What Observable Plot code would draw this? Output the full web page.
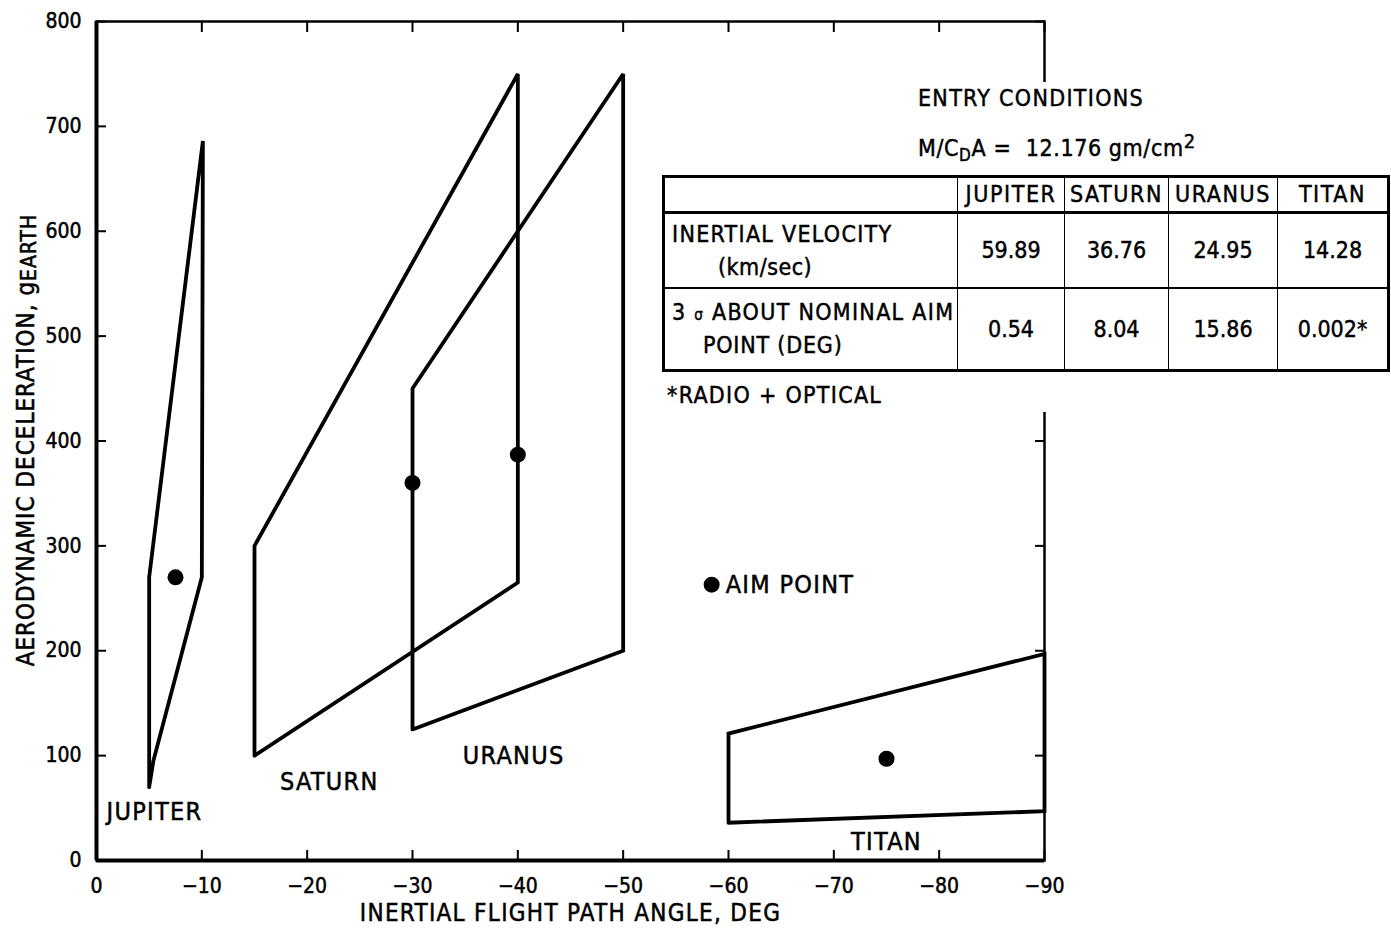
<!DOCTYPE html>
<html><head><meta charset="utf-8">
<script src="https://cdn.jsdelivr.net/npm/d3@7"></script>
<script src="https://cdn.jsdelivr.net/npm/@observablehq/plot@0.6"></script>
<style>
body{margin:0;background:#fff;}
#wrap{position:relative;width:1391px;height:934px;font-family:"Liberation Sans Narrow","DejaVu Sans Condensed","Roboto Condensed",sans-serif;color:#000;-webkit-text-stroke:0.45px #000;}
#wrap svg{position:absolute;left:0;top:0;}
#wrap svg text{stroke:#000;stroke-width:0.5px;}
#cover{position:absolute;left:655px;top:82px;width:736px;height:330px;background:#fff;}
.hd{position:absolute;font-size:23px;white-space:nowrap;line-height:1;letter-spacing:1.3px;}
#tbl{position:absolute;left:662px;top:175px;border-collapse:collapse;border:3px solid #000;font-size:23px;table-layout:fixed;}
#tbl td{border:1.5px solid #000;padding:0;text-align:center;line-height:1.45;}
#tbl tr.h td{height:32px;border-bottom:3px solid #000;letter-spacing:1.6px;}
#tbl tr.r1 td{height:73px;}
#tbl tr.r2 td{height:80px;border-top:2.5px solid #000;}
#tbl td.first{text-align:left;padding-left:7px;letter-spacing:1.3px;white-space:nowrap;}
</style></head><body><div id="wrap"></div>
<script>
// axis ticks
const xTicks = [0, -10, -20, -30, -40, -50, -60, -70, -80, -90];
const yTicks = [0, 100, 200, 300, 400, 500, 600, 700, 800];

// 3-sigma dispersion regions (inertial flight path angle, deg ; deceleration, g_earth)
const jupiterAngle = [-5, -5, -10.1, -10, -5.4, -5];
const jupiterDecel = [70, 270, 686, 270, 95, 70];
const saturnAngle = [-15, -15, -40, -40, -15];
const saturnDecel = [100, 300, 750, 265, 100];
const uranusAngle = [-30, -30, -50, -50, -30];
const uranusDecel = [125, 450, 750, 200, 125];
const titanAngle = [-60, -60, -90, -90, -60];
const titanDecel = [36, 121, 197, 47, 36];

// aim points
const aimPlanets = ["JUPITER", "SATURN", "URANUS", "TITAN"];
const aimAngle = [-7.5, -30, -40, -75];
const aimDecel = [270, 360, 387, 97];

// region labels
const labelText = ["JUPITER", "SATURN", "URANUS", "TITAN"];
const labelAngle = [-5.5, -22.1, -39.6, -75];
const labelDecel = [46, 75, 100, 18];

// legend
const legendAngle = [-58.4];
const legendDecel = [263];
const legendText = ["AIM POINT"];

// entry conditions table
const tablePlanets = ["JUPITER", "SATURN", "URANUS", "TITAN"];
const inertialVelocity = ["59.89", "36.76", "24.95", "14.28"];
const sigmaAim = ["0.54", "8.04", "15.86", "0.002*"];

const regions = [
  ["JUPITER", jupiterAngle, jupiterDecel],
  ["SATURN", saturnAngle, saturnDecel],
  ["URANUS", uranusAngle, uranusDecel],
  ["TITAN", titanAngle, titanDecel]
].flatMap(([p, xs, ys]) => xs.map((x, i) => ({planet: p, x, y: ys[i]})));
const aims = aimPlanets.map((p, i) => ({planet: p, x: aimAngle[i], y: aimDecel[i]}));
const labels = labelText.map((t, i) => ({t, x: labelAngle[i], y: labelDecel[i]}));
const legend = legendText.map((t, i) => ({t, x: legendAngle[i], y: legendDecel[i]}));

const fmtX = d => d === 0 ? "0" : "\u2212" + Math.abs(d);
const FONT = '"Liberation Sans Narrow","DejaVu Sans Condensed","Roboto Condensed",sans-serif';

const chart = Plot.plot({
  width: 1391, height: 934,
  marginLeft: 96, marginRight: 347, marginTop: 21, marginBottom: 74,
  x: {domain: [0, -90]},
  y: {domain: [0, 800]},
  style: {fontFamily: FONT, fontSize: "21px", color: "#000", background: "transparent", overflow: "visible"},
  marks: [
    Plot.frame({stroke: "#000", strokeWidth: 2.5}),
    Plot.ruleX([0], {stroke: "#000", strokeWidth: 4}),
    Plot.ruleY([0], {stroke: "#000", strokeWidth: 4}),
    Plot.axisX({ticks: xTicks, anchor: "bottom", tickSize: -10, tickPadding: 28, tickFormat: fmtX, label: null, strokeWidth: 2}),
    Plot.axisX({ticks: xTicks, anchor: "top", tickSize: -10, tickFormat: () => "", label: null, strokeWidth: 2}),
    Plot.axisY({ticks: yTicks, anchor: "left", tickSize: -10, tickPadding: 25, label: null, strokeWidth: 2}),
    Plot.axisY({ticks: yTicks, anchor: "right", tickSize: -10, tickFormat: () => "", label: null, strokeWidth: 2}),
    Plot.line(regions, {x: "x", y: "y", z: "planet", stroke: "#000", strokeWidth: 3.8, strokeLinejoin: "miter", strokeMiterlimit: 3}),
    Plot.dot(aims, {x: "x", y: "y", r: 8, fill: "#000"}),
    Plot.dot(legend, {x: "x", y: "y", r: 8, fill: "#000"}),
    Plot.text(legend, {x: "x", y: "y", text: "t", textAnchor: "start", dx: 14, fontSize: 25}),
    Plot.text(labels, {x: "x", y: "y", text: "t", fontSize: 25}),
    Plot.text(["INERTIAL FLIGHT PATH ANGLE, DEG"], {frameAnchor: "bottom", dy: 60, fontSize: 24})
  ]
});

const wrap = document.getElementById("wrap");
wrap.appendChild(chart);

const svg = d3.select(chart);
svg.selectAll("g[aria-label='text'] text").attr("letter-spacing", "1.3px");

// y axis title with subscript
const yt = svg.append("text")
  .attr("transform", "translate(27,440) rotate(-90)")
  .attr("text-anchor", "middle")
  .attr("dominant-baseline", "middle")
  .attr("font-family", FONT)
  .attr("font-size", 24)
  .attr("letter-spacing", "1px")
  .attr("fill", "#000");
yt.append("tspan").text("AERODYNAMIC DECELERATION, ");
yt.append("tspan").text("g");
yt.append("tspan").attr("font-size", 21).attr("dy", 3).text("EARTH");

// covering box + entry conditions block
const cover = document.createElement("div");
cover.id = "cover";
wrap.appendChild(cover);

const h1 = document.createElement("div");
h1.className = "hd";
h1.style.left = "918px"; h1.style.top = "87px";
h1.textContent = "ENTRY CONDITIONS";
wrap.appendChild(h1);

const h2 = document.createElement("div");
h2.className = "hd";
h2.style.left = "918px"; h2.style.top = "131px";
h2.style.letterSpacing = "0.6px";
h2.innerHTML = 'M/C<sub style="font-size:17px;vertical-align:-5px">D</sub>A = &nbsp;12.176 gm/cm<sup style="font-size:20px;vertical-align:8px">2</sup>';
wrap.appendChild(h2);

const tbl = document.createElement("table");
tbl.id = "tbl";
const colW = [294, 107, 104, 109, 111];
const cg = document.createElement("colgroup");
colW.forEach(w => { const c = document.createElement("col"); c.style.width = w + "px"; cg.appendChild(c); });
tbl.appendChild(cg);
const mkRow = (cls, firstHTML, vals) => {
  const tr = document.createElement("tr");
  tr.className = cls;
  const td0 = document.createElement("td");
  td0.className = "first";
  td0.innerHTML = firstHTML;
  tr.appendChild(td0);
  vals.forEach(v => { const td = document.createElement("td"); td.textContent = v; tr.appendChild(td); });
  tbl.appendChild(tr);
};
mkRow("h", "", tablePlanets);
mkRow("r1", 'INERTIAL VELOCITY<br><span style="margin-left:46px;letter-spacing:0.5px">(km/sec)</span>', inertialVelocity);
mkRow("r2", '3 <span style="font-size:15px">\u03c3</span> ABOUT NOMINAL AIM<br><span style="margin-left:31px;letter-spacing:0.8px">POINT (DEG)</span>', sigmaAim);
wrap.appendChild(tbl);

const fn = document.createElement("div");
fn.className = "hd";
fn.style.left = "667px"; fn.style.top = "384px";
fn.textContent = "*RADIO + OPTICAL";
wrap.appendChild(fn);
</script></body></html>
